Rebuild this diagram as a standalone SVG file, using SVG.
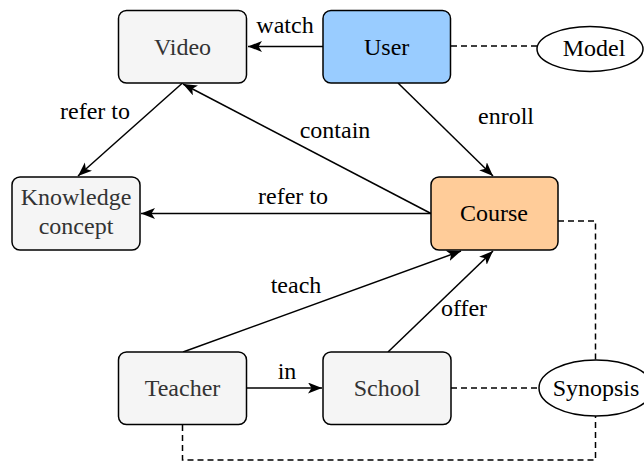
<svg xmlns="http://www.w3.org/2000/svg" width="644" height="463" viewBox="0 0 644 463">
<style>
.box{stroke:#000;stroke-width:1.5}
.gray{fill:#f5f5f5}
.tg{fill:#333}
.tb{fill:#000}
.e{fill:none;stroke:#000;stroke-width:1.5}
.d{fill:none;stroke:#000;stroke-width:1.5;stroke-dasharray:6 4}
.el{fill:#fff;stroke:#000;stroke-width:1.5}
</style>
<defs>
<marker id="arr" markerUnits="userSpaceOnUse" markerWidth="16" markerHeight="12" refX="14" refY="5.5" orient="auto">
<path d="M0,0 L14,5.5 L0,11 L3.5,5.5 Z" fill="#000"/>
</marker>
</defs>
<rect width="644" height="463" fill="#fff"/>
<g font-family="Liberation Serif, Times New Roman, serif" font-size="24" text-anchor="middle">
<g id="connectors">
<line class="e" x1="323" y1="46.5" x2="248" y2="46.5" marker-end="url(#arr)"/>
<line class="e" x1="182.5" y1="83" x2="78" y2="176" marker-end="url(#arr)"/>
<line class="e" x1="431" y1="213.5" x2="183" y2="84" marker-end="url(#arr)"/>
<line class="e" x1="431" y1="213.5" x2="141" y2="213.5" marker-end="url(#arr)"/>
<line class="e" x1="398" y1="83" x2="493" y2="176" marker-end="url(#arr)"/>
<line class="e" x1="183" y1="352" x2="461" y2="251" marker-end="url(#arr)"/>
<line class="e" x1="388" y1="352" x2="493" y2="251" marker-end="url(#arr)"/>
<line class="e" x1="247" y1="388" x2="322" y2="388" marker-end="url(#arr)"/>
<polyline class="d" points="451,46 537,46"/>
<polyline class="d" points="558,221 595.5,221 595.5,360"/>
<polyline class="d" points="451,388 539,388"/>
<polyline class="d" points="182.5,425 182.5,460 595.5,460 595.5,416"/>
<text class="tb" x="285" y="33">watch</text>
<text class="tb" x="95" y="119">refer to</text>
<text class="tb" x="335" y="138">contain</text>
<text class="tb" x="506" y="124">enroll</text>
<text class="tb" x="293" y="204">refer to</text>
<text class="tb" x="296" y="293">teach</text>
<text class="tb" x="464" y="316">offer</text>
<text class="tb" x="287" y="379">in</text>
</g>
<g id="video">
<rect class="box gray" x="118.5" y="10.5" width="128" height="72.5" rx="8"/>
<text class="tg" x="182.5" y="55">Video</text>
</g>
<g id="user">
<rect class="box" fill="#99ccff" x="323" y="10.5" width="127.5" height="72.5" rx="8"/>
<text class="tb" x="386.7" y="55">User</text>
</g>
<g id="model">
<ellipse class="el" cx="590" cy="49" rx="53" ry="22.5"/>
<text class="tb" x="594" y="56">Model</text>
</g>
<g id="knowledge">
<rect class="box gray" x="12" y="177" width="128" height="73" rx="8"/>
<text class="tg" x="76" y="205">Knowledge</text>
<text class="tg" x="76" y="234">concept</text>
</g>
<g id="course">
<rect class="box" fill="#ffcc99" x="431" y="177" width="127" height="73" rx="8"/>
<text class="tb" x="494" y="221">Course</text>
</g>
<g id="teacher">
<rect class="box gray" x="118.5" y="352" width="128" height="72.5" rx="8"/>
<text class="tg" x="182.5" y="396">Teacher</text>
</g>
<g id="school">
<rect class="box gray" x="323" y="352" width="128" height="72.5" rx="8"/>
<text class="tg" x="387" y="396">School</text>
</g>
<g id="synopsis">
<ellipse class="el" cx="596" cy="388" rx="57" ry="28"/>
<text class="tb" x="596" y="396">Synopsis</text>
</g>
</g>
</svg>
